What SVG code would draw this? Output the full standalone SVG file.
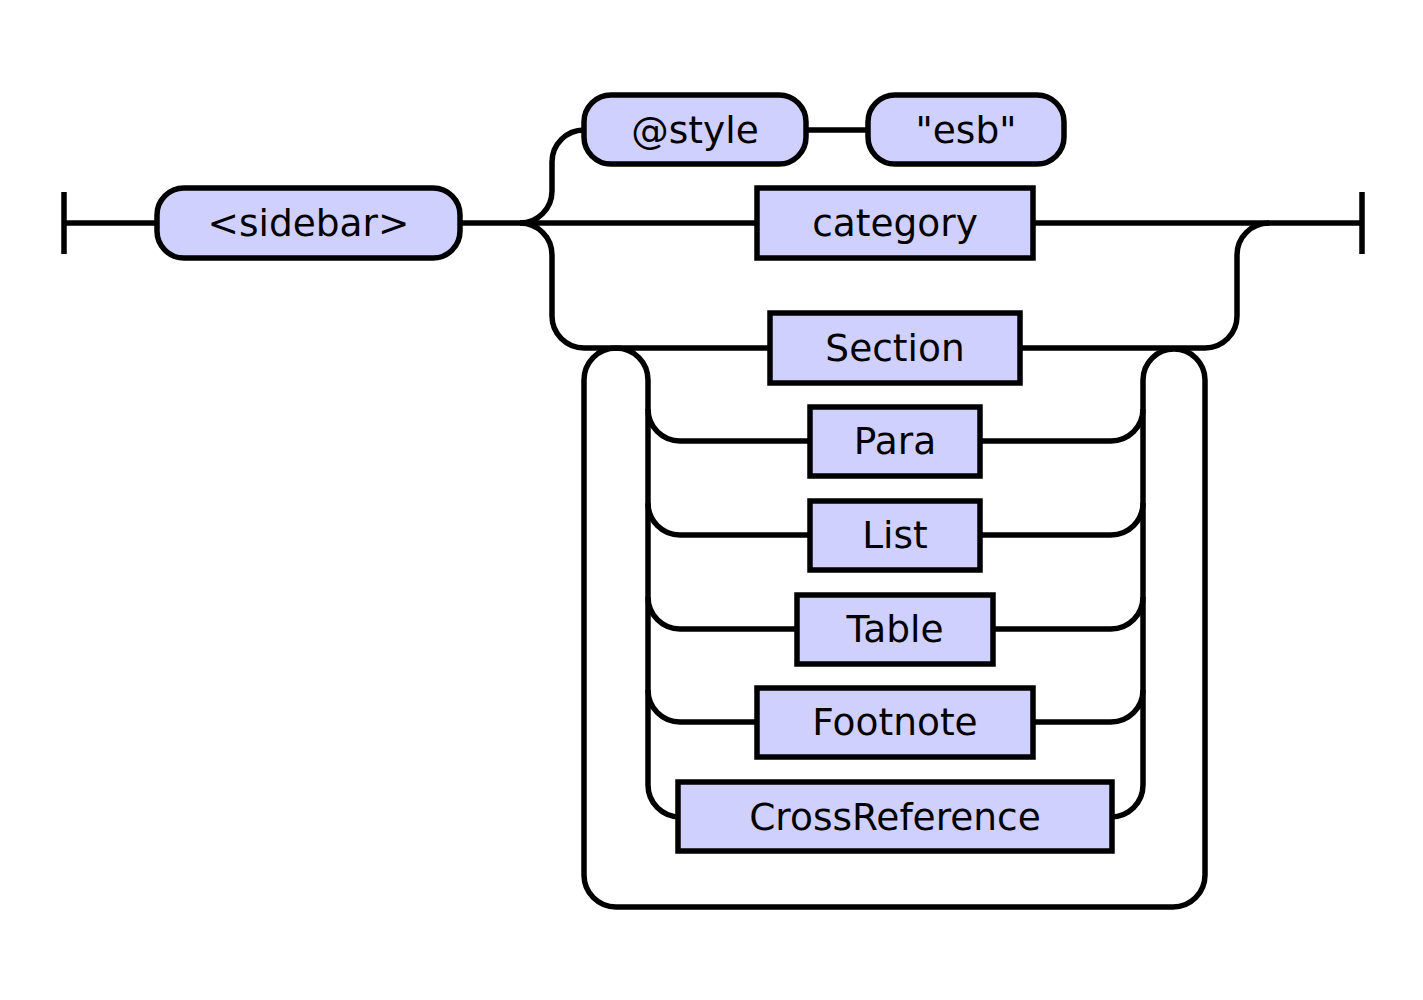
<svg xmlns="http://www.w3.org/2000/svg" width="1423" height="1000" viewBox="0 0 1423 1000">
<style>
.n rect{fill:#d0d0ff;stroke:#000;stroke-width:5.5}
.n text{font-family:"DejaVu Sans",sans-serif;font-size:37.5px;fill:#000;text-anchor:middle}
#connectors path{fill:none;stroke:#000;stroke-width:5.5}
</style>
<rect width="1423" height="1000" fill="#fff"/>
<g id="connectors">
<path d="M64,192 V254 M64,223 H157"/>
<path d="M1362,192 V254 M1033,223 H1362"/>
<path d="M460,223 H757"/>
<path d="M520,223 A32,32 0 0 0 552,191 V162 A32,32 0 0 1 584,130"/>
<path d="M806,130 H868"/>
<path d="M520,223 A32,32 0 0 1 552,255 V316 A32,32 0 0 0 584,348 H770"/>
<path d="M1020,348 H1205 A32,32 0 0 0 1237,316 V255 A32,32 0 0 1 1269,223"/>
<path d="M584,380 A32,32 0 0 1 648,380"/>
<path d="M1143,380 A31,31 0 0 1 1205,380"/>
<path d="M584,380 V875 A32,32 0 0 0 616,907 H1173 A32,32 0 0 0 1205,875 V380"/>
<path d="M648,380 V785"/>
<path d="M1143,380 V785"/>
<path d="M648,409 A32,32 0 0 0 680,441 H810"/>
<path d="M648,503 A32,32 0 0 0 680,535 H810"/>
<path d="M648,597 A32,32 0 0 0 680,629 H797"/>
<path d="M648,690 A32,32 0 0 0 680,722 H757"/>
<path d="M648,785 A32,32 0 0 0 680,817"/>
<path d="M980,441 H1111 A32,32 0 0 0 1143,409"/>
<path d="M980,535 H1111 A32,32 0 0 0 1143,503"/>
<path d="M993,629 H1111 A32,32 0 0 0 1143,597"/>
<path d="M1033,722 H1111 A32,32 0 0 0 1143,690"/>
<path d="M1111,817 A32,32 0 0 0 1143,785"/>
</g>
<g id="sidebar" class="n"><rect x="157" y="188" width="303" height="70" rx="27"/><text x="308.5" y="236">&lt;sidebar&gt;</text></g>
<g id="style" class="n"><rect x="584" y="95" width="222" height="69" rx="27"/><text x="695" y="143">@style</text></g>
<g id="esb" class="n"><rect x="868" y="95" width="196" height="69" rx="27"/><text x="966" y="143">"esb"</text></g>
<g id="category" class="n"><rect x="757" y="188" width="276" height="70"/><text x="895" y="236">category</text></g>
<g id="section" class="n"><rect x="770" y="313" width="250" height="70"/><text x="895" y="361">Section</text></g>
<g id="para" class="n"><rect x="810" y="407" width="170" height="69"/><text x="895" y="454">Para</text></g>
<g id="list" class="n"><rect x="810" y="501" width="170" height="69"/><text x="895" y="548">List</text></g>
<g id="table" class="n"><rect x="797" y="595" width="196" height="69"/><text x="895" y="642">Table</text></g>
<g id="footnote" class="n"><rect x="757" y="688" width="276" height="69"/><text x="895" y="735">Footnote</text></g>
<g id="crossreference" class="n"><rect x="678" y="782" width="434" height="69"/><text x="895" y="830">CrossReference</text></g>
</svg>
